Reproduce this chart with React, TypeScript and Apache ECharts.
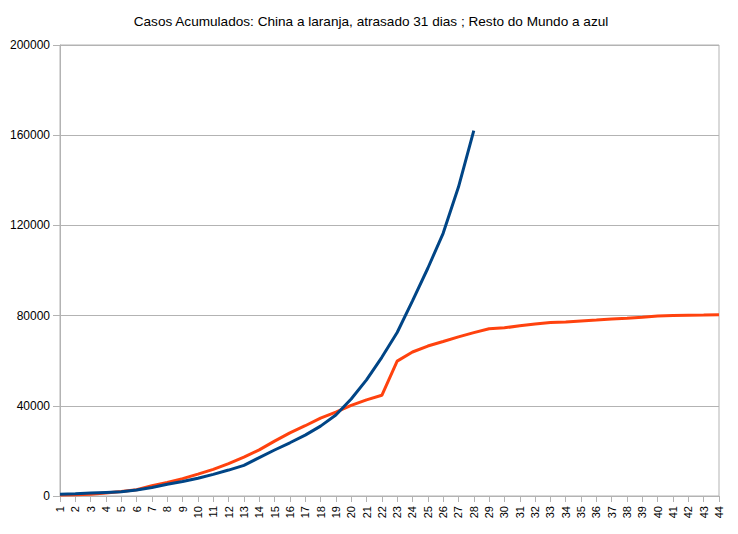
import React, { useEffect, useRef } from "react";
import * as echarts from "echarts";

const categories: string[] = [
  "1", "2", "3", "4", "5", "6", "7", "8", "9", "10",
  "11", "12", "13", "14", "15", "16", "17", "18", "19", "20",
  "21", "22", "23", "24", "25", "26", "27", "28", "29", "30",
  "31", "32", "33", "34", "35", "36", "37", "38", "39", "40",
  "41", "42", "43", "44",
];

// China (orange), shifted by 31 days
const chinaValues: number[] = [
  440, 571, 830, 1287, 1975, 2744, 4515, 5974, 7711, 9692,
  11791, 14380, 17205, 20438, 24324, 28018, 31161, 34546, 37198, 40171,
  42638, 44653, 59804, 63851, 66492, 68500, 70548, 72436, 74185, 74576,
  75465, 76288, 76936, 77150, 77658, 78064, 78497, 78824, 79251, 79824,
  80026, 80151, 80270, 80409,
];

// Rest of the world (blue)
const restValues: number[] = [
  800, 1000, 1300, 1600, 1900, 2700, 3800, 5200, 6400, 7900,
  9600, 11500, 13600, 17000, 20400, 23600, 27000, 31000, 35900, 43000,
  51500, 61500, 72500, 86500, 101000, 116500, 137000, 162000,
];

const titleText = "Casos Acumulados: China a laranja, atrasado 31 dias ; Resto do Mundo a azul";
const yMin = 0;
const yMax = 200000;
const yInterval = 40000;

export default function App() {
  const ref = useRef<HTMLDivElement>(null);
  useEffect(() => {
    if (!ref.current) return;
    const chart = echarts.init(ref.current, undefined, { renderer: "svg" });
    const font = "'Liberation Sans', Arial, sans-serif";
    chart.setOption({
      animation: false,
      backgroundColor: "#ffffff",
      title: {
        text: titleText,
        left: 366,
        textAlign: "center",
        top: 9,
        textStyle: { fontSize: 13.6, fontWeight: "normal", color: "#000", fontFamily: font },
      },
      grid: {
        left: 60,
        right: 19,
        top: 45,
        bottom: 38,
        show: true,
        borderColor: "#b3b3b3",
        borderWidth: 1,
        backgroundColor: "transparent",
      },
      xAxis: {
        type: "category",
        data: categories,
        boundaryGap: false,
        axisLine: { show: true, lineStyle: { color: "#b3b3b3", width: 1 } },
        axisTick: { show: true, interval: 0, length: 6, lineStyle: { color: "#b3b3b3" } },
        axisLabel: {
          interval: 0,
          rotate: 90,
          fontSize: 11,
          color: "#000",
          fontFamily: font,
          margin: 10,
        },
        splitLine: { show: false },
      },
      yAxis: {
        type: "value",
        min: yMin,
        max: yMax,
        interval: yInterval,
        axisLine: { show: true, lineStyle: { color: "#b3b3b3", width: 1 } },
        axisTick: { show: true, length: 7, lineStyle: { color: "#b3b3b3" } },
        axisLabel: {
          fontSize: 12,
          color: "#000",
          fontFamily: font,
          margin: 10,
          formatter: (v: number) => String(v),
        },
        splitLine: { show: true, lineStyle: { color: "#b3b3b3", width: 1 } },
      },
      series: [
        {
          name: "China",
          type: "line",
          data: chinaValues,
          showSymbol: false,
          symbol: "none",
          smooth: false,
          lineStyle: { color: "#ff420e", width: 3 },
          itemStyle: { color: "#ff420e" },
        },
        {
          name: "Resto do Mundo",
          type: "line",
          data: restValues,
          showSymbol: false,
          symbol: "none",
          smooth: false,
          lineStyle: { color: "#004586", width: 3 },
          itemStyle: { color: "#004586" },
        },
      ],
    });
    return () => chart.dispose();
  }, []);
  return (
    <div
      ref={ref}
      style={{ position: "fixed", left: 0, top: 0, width: 738, height: 534, background: "#fff" }}
    />
  );
}
